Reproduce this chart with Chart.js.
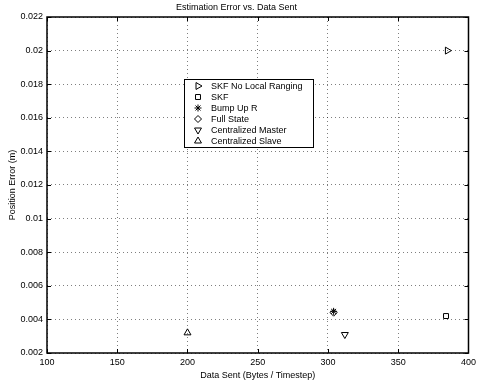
<!DOCTYPE html>
<html>
<head>
<meta charset="utf-8">
<script src="https://cdn.jsdelivr.net/npm/chart.js@4"></script>
<style>
  html, body { margin: 0; padding: 0; background: #fff; }
  #wrap { width: 480px; height: 385px; }
</style>
</head>
<body>
<div id="wrap"><canvas id="chart" width="480" height="385"></canvas></div>
<script>
// data
const seriesNames = ['SKF No Local Ranging', 'SKF', 'Bump Up R', 'Full State', 'Centralized Master', 'Centralized Slave']
const dataSent = [385, 384, 304, 304, 312, 200]
const positionError = [0.0200, 0.0042, 0.00448, 0.0044, 0.0031, 0.0032]
const xTicks = [100, 150, 200, 250, 300, 350, 400]
const yTicks = [0.002, 0.004, 0.006, 0.008, 0.01, 0.012, 0.014, 0.016, 0.018, 0.02, 0.022]

const markers = [
  { style: 'triangle', rotation: 90, radius: 4 },
  { style: 'rect', rotation: 0, radius: 3.5 },
  { style: 'star', rotation: 0, radius: 3.5 },
  { style: 'rectRot', rotation: 0, radius: 3.5 },
  { style: 'triangle', rotation: 180, radius: 4 },
  { style: 'triangle', rotation: 0, radius: 4 }
]

const FONT = 'Liberation Sans, Arial, Helvetica, sans-serif'

const datasets = seriesNames.map((name, i) => ({
  label: name,
  data: [{ x: dataSent[i], y: positionError[i] }],
  pointStyle: markers[i].style,
  rotation: markers[i].rotation,
  pointRadius: markers[i].radius,
  pointBorderWidth: 1,
  borderColor: '#000',
  backgroundColor: markers[i].style === 'star' ? '#000' : 'rgba(255,255,255,0)',
  showLine: false
}))

// box, inward ticks and the legend, matlab style
const framePlugin = {
  id: 'frame',
  afterDatasetsDraw(chart) {
    const { ctx, chartArea: a, scales: { x, y } } = chart
    ctx.save()
    ctx.strokeStyle = '#000'
    ctx.lineWidth = 1
    ctx.beginPath()
    xTicks.forEach(v => {
      const px = Math.round(x.getPixelForValue(v)) + 0.5
      ctx.moveTo(px, a.bottom); ctx.lineTo(px, a.bottom - 4)
      ctx.moveTo(px, a.top); ctx.lineTo(px, a.top + 4)
    })
    yTicks.forEach(v => {
      const py = Math.round(y.getPixelForValue(v)) + 0.5
      ctx.moveTo(a.left, py); ctx.lineTo(a.left + 4, py)
      ctx.moveTo(a.right, py); ctx.lineTo(a.right - 4, py)
    })
    ctx.stroke()
    ctx.lineWidth = 1.5
    ctx.strokeRect(a.left, a.top, a.right - a.left, a.bottom - a.top)

    // legend
    const lx = 184, ly = 79, lw = 129, lh = 68
    ctx.fillStyle = '#fff'
    ctx.fillRect(lx, ly, lw, lh)
    ctx.lineWidth = 1
    ctx.strokeRect(lx + 0.5, ly + 0.5, lw, lh)
    ctx.font = '9px ' + FONT
    ctx.textBaseline = 'middle'
    ctx.textAlign = 'left'
    seriesNames.forEach((name, i) => {
      const rowY = ly + 7 + i * 11
      ctx.strokeStyle = '#000'
      ctx.fillStyle = markers[i].style === 'star' ? '#000' : 'rgba(255,255,255,0)'
      Chart.helpers.drawPoint(ctx, {
        pointStyle: markers[i].style,
        rotation: markers[i].rotation,
        radius: markers[i].radius,
        borderWidth: 1
      }, lx + 14, rowY)
      ctx.fillStyle = '#000'
      ctx.fillText(name, lx + 27, rowY + 0.5)
    })
    ctx.restore()
  }
}

new Chart(document.getElementById('chart'), {
  type: 'scatter',
  data: { datasets },
  options: {
    responsive: false,
    animation: false,
    layout: { padding: { top: 0, right: 7, bottom: 0, left: 0 } },
    plugins: {
      legend: { display: false },
      tooltip: { enabled: false },
      title: {
        display: true,
        text: 'Estimation Error vs. Data Sent',
        color: '#000',
        font: { family: FONT, size: 9, weight: 'normal', lineHeight: 1.2 },
        padding: { top: 2, bottom: 4.2 }
      }
    },
    scales: {
      x: {
        type: 'linear',
        min: 100,
        max: 400,
        afterBuildTicks: s => { s.ticks = xTicks.map(v => ({ value: v })) },
        afterFit: s => { s.height = 32 },
        grid: { color: 'rgba(0,0,0,0.5)', drawTicks: false, lineWidth: 1 },
        border: { display: false, dash: [1, 3] },
        ticks: { color: '#000', font: { family: FONT, size: 9 }, padding: 4, maxRotation: 0 },
        title: {
          display: true,
          text: 'Data Sent (Bytes / Timestep)',
          color: '#000',
          font: { family: FONT, size: 9 },
          padding: { top: 0, bottom: 4.5 }
        }
      },
      y: {
        type: 'linear',
        min: 0.002,
        max: 0.022,
        afterBuildTicks: s => { s.ticks = yTicks.map(v => ({ value: v })) },
        afterFit: s => { s.width = 47 },
        grid: { color: 'rgba(0,0,0,0.5)', drawTicks: false, lineWidth: 1 },
        border: { display: false, dash: [1, 3] },
        ticks: {
          color: '#000',
          font: { family: FONT, size: 9 },
          padding: 4,
          callback: v => String(parseFloat(v.toFixed(4)))
        },
        title: {
          display: true,
          text: 'Position Error (m)',
          color: '#000',
          font: { family: FONT, size: 9 },
          padding: { top: 7, bottom: 0 }
        }
      }
    }
  },
  plugins: [framePlugin]
})
</script>
</body>
</html>
